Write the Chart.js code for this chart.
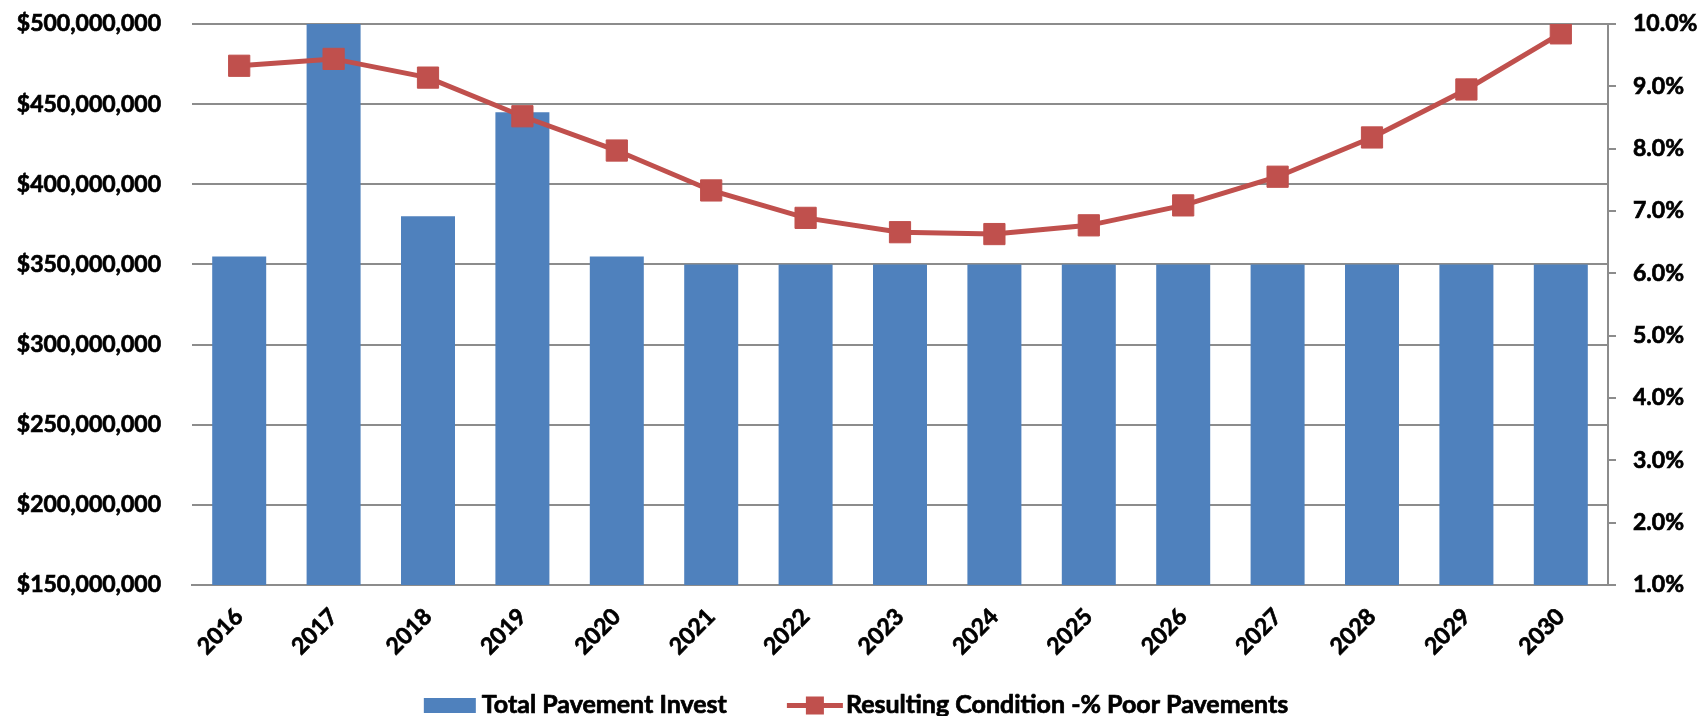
<!DOCTYPE html>
<html>
<head>
<meta charset="utf-8">
<title>Pavement Investment and Condition</title>
<script src="https://cdn.jsdelivr.net/npm/chart.js@4.4.1/dist/chart.umd.min.js"></script>
<style>
  html, body { margin: 0; padding: 0; background: #ffffff; }
  #wrap { width: 1702px; height: 716px; position: relative; }
  canvas { display: block; }
</style>
</head>
<body>
<div id="wrap"><canvas id="chart" width="1702" height="716"></canvas></div>
<script>
// Years on the horizontal axis
const years = ['2016','2017','2018','2019','2020','2021','2022','2023','2024','2025','2026','2027','2028','2029','2030'];

// Annual pavement investment (dollars)
const investment = [355000000, 500000000, 380000000, 445000000, 355000000,
                    350000000, 350000000, 350000000, 350000000, 350000000,
                    350000000, 350000000, 350000000, 350000000, 350000000];

// Resulting share of pavements in poor condition (percent)
const poorPct = [9.33, 9.44, 9.14, 8.52, 7.97, 7.33, 6.89, 6.66, 6.63, 6.77, 7.09, 7.55, 8.18, 8.95, 9.85];

// Series names
const seriesNames = ['Total Pavement Invest', 'Resulting Condition -% Poor Pavements'];

// Axis ranges
const dollarAxis = { min: 150000000, max: 500000000, step: 50000000 };
const pctAxis = { min: 1, max: 10, step: 1 };

const BLUE = '#4F81BD';
const RED = '#C0504D';
const GRID = '#8c8c8c';
const FONT = 'Lato, "Open Sans", "Liberation Sans", sans-serif';
const FONT_SIZE = 23;
const KEY_FONT_SIZE = 25;
const WEIGHT = 'bold';
const STROKE = 0.7;   // slight outline to thicken the bold glyphs

// Keep the vertical axes from reserving label padding above and below the plot
function fixVerticalAxis(width) {
  return function (scale) {
    scale.width = width;
    scale.paddingTop = 0;
    scale.paddingBottom = 0;
  };
}

// Legend row drawn under the axis labels
const keyPlugin = {
  id: 'bottomKey',
  afterDraw(chart) {
    const ctx = chart.ctx;
    const ds = chart.data.datasets;
    ctx.save();
    ctx.font = WEIGHT + ' ' + KEY_FONT_SIZE + 'px ' + FONT;
    ctx.textBaseline = 'alphabetic';
    ctx.textAlign = 'left';
    ctx.lineJoin = 'round';
    const swBar = 52, gapBar = 6, swLine = 56, gapLine = 3, between = 60;
    const w0 = ctx.measureText(ds[0].label).width;
    const w1 = ctx.measureText(ds[1].label).width;
    const total = swBar + gapBar + w0 + between + swLine + gapLine + w1;
    let x = 856 - total / 2;
    const cy = 705.5, base = 713;
    const label = (text, tx) => {
      ctx.fillStyle = '#000';
      ctx.strokeStyle = '#000';
      ctx.lineWidth = STROKE;
      ctx.strokeText(text, tx, base);
      ctx.fillText(text, tx, base);
    };
    // bar swatch
    ctx.fillStyle = ds[0].backgroundColor;
    ctx.fillRect(x, cy - 7.5, swBar, 15);
    x += swBar + gapBar;
    label(ds[0].label, x);
    x += w0 + between;
    // line swatch with marker
    ctx.strokeStyle = ds[1].borderColor;
    ctx.lineWidth = 5;
    ctx.beginPath();
    ctx.moveTo(x, cy);
    ctx.lineTo(x + swLine, cy);
    ctx.stroke();
    ctx.fillStyle = ds[1].pointBackgroundColor;
    ctx.fillRect(x + swLine / 2 - 9, cy - 9, 18, 18);
    x += swLine + gapLine;
    label(ds[1].label, x);
    ctx.restore();
  }
};

const tickFont = { family: FONT, size: FONT_SIZE, weight: WEIGHT };

const ctx = document.getElementById('chart').getContext('2d');
new Chart(ctx, {
  data: {
    labels: years,
    datasets: [
      {
        type: 'bar',
        label: seriesNames[0],
        data: investment,
        yAxisID: 'yDollar',
        backgroundColor: BLUE,
        borderWidth: 0,
        categoryPercentage: 1.0,
        barPercentage: 0.572,
        order: 2
      },
      {
        type: 'line',
        label: seriesNames[1],
        data: poorPct,
        yAxisID: 'yPct',
        borderColor: RED,
        borderWidth: 5,
        backgroundColor: RED,
        pointStyle: 'rect',
        pointRadius: 15,
        pointHoverRadius: 15,
        pointBackgroundColor: RED,
        pointBorderColor: RED,
        pointBorderWidth: 1,
        tension: 0,
        fill: false,
        order: 1
      }
    ]
  },
  options: {
    responsive: false,
    animation: false,
    devicePixelRatio: 1,
    layout: { padding: { top: 24, left: 0, right: 0, bottom: 0 } },
    plugins: {
      legend: { display: false },
      tooltip: { enabled: false }
    },
    scales: {
      x: {
        position: 'bottom',
        offset: true,
        grid: { display: false, drawTicks: false },
        border: { display: true, color: GRID, width: 2 },
        ticks: {
          color: '#000',
          font: tickFont,
          textStrokeColor: '#000',
          textStrokeWidth: STROKE,
          minRotation: 45,
          maxRotation: 45,
          autoSkip: false,
          padding: 18
        },
        afterFit(scale) { scale.height = 131; }
      },
      yDollar: {
        position: 'left',
        min: dollarAxis.min,
        max: dollarAxis.max,
        grid: { color: GRID, lineWidth: 2, drawTicks: false },
        border: { display: false },
        ticks: {
          stepSize: dollarAxis.step,
          color: '#000',
          font: tickFont,
          textStrokeColor: '#000',
          textStrokeWidth: STROKE,
          padding: 31,
          callback: v => '$' + Number(v).toLocaleString('en-US')
        },
        afterFit: fixVerticalAxis(192)
      },
      yPct: {
        position: 'right',
        min: pctAxis.min,
        max: pctAxis.max,
        grid: { drawOnChartArea: false, drawTicks: true, tickLength: 8, color: GRID, lineWidth: 2 },
        border: { display: true, color: GRID, width: 2 },
        ticks: {
          stepSize: pctAxis.step,
          color: '#000',
          font: tickFont,
          textStrokeColor: '#000',
          textStrokeWidth: STROKE,
          padding: 17,
          callback: v => Number(v).toFixed(1) + '%'
        },
        afterFit: fixVerticalAxis(94)
      }
    }
  },
  plugins: [keyPlugin]
});
</script>
</body>
</html>
